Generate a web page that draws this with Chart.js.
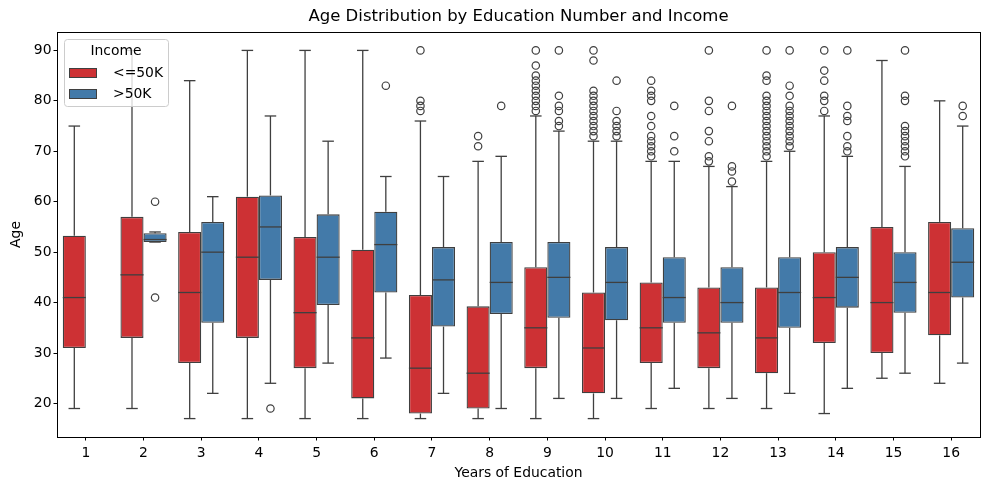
<!DOCTYPE html>
<html>
<head>
<meta charset="utf-8">
<script src="https://cdn.jsdelivr.net/npm/chart.js@4.4.1/dist/chart.umd.min.js"></script>
<style>
html,body{margin:0;padding:0;background:#fff;}
</style>
</head>
<body>
<canvas id="boxChart" width="989" height="490"></canvas>
<script>
// ===========================================
// DATA  (age by years of education, split by income)
// ===========================================

const years = ["1","2","3","4","5","6","7","8","9","10","11","12","13","14","15","16"];
const yTicks = [20,30,40,50,60,70,80,90];

// <=50K
const lowWhisLo = [19,19,17,17,17,17,17,17,17,17,19,19,19,18,25,24];
const lowQ1     = [31,33,28,33,27,21,18,19,27,22,28,27,26,32,30,33.5];
const lowMed    = [41,45.5,42,49,38,33,27,26,35,31,35,34,33,41,40,42];
const lowQ3     = [53.25,57,54,61,53,50.5,41.5,39.25,47,42,44,43,43,50,55,56];
const lowWhisHi = [75,90,84,90,90,90,76,68,77,72,68,67,68,77,88,80];
const lowOut = [
  [],[],[],[],[],[],
  [78,79,80,90],
  [71,73],
  [78,79,80,81,82,83,84,85,87,90],
  [73,74,75,76,77,78,79,80,81,82,88,90],
  [69,70,71,72,73,75,77,80,81,82,84],
  [68,69,72,74,78,80,90],
  [69,70,71,72,73,74,75,76,77,78,79,80,81,84,85,90],
  [78,80,81,84,86,90],
  [],[]
];

// >50K
const highWhisLo = [null,52,22,24,28,29,22,19,21,21,23,21,22,23,26,28];
const highQ1     = [null,52,36,44.5,39.5,42,35.25,37.75,37,36.5,36,36,35,39,38,41];
const highMed    = [null,52.5,50,55,49,51.5,44.5,44,45,44,41,40,42,45,44,48];
const highQ3     = [null,53.75,56,61.25,57.5,58,51,52,52,51,49,47,49,51,50,54.75];
const highWhisHi = [null,54,61,77,72,65,65,69,74,72,68,63,70,69,67,75];
const highOut = [
  [],
  [41,60],
  [],
  [19],
  [],
  [83],
  [],
  [79],
  [75,76,78,79,81,90],
  [73,74,75,76,78,84],
  [70,73,79],
  [64,66,67,79],
  [71,72,73,74,75,76,77,78,79,81,83,90],
  [70,71,73,76,77,79,90],
  [69,70,71,72,73,74,75,80,81,90],
  [77,79]
];

// ===========================================
// STYLE
// ===========================================

const RED = "rgb(205,49,52)";
const BLUE = "rgb(67,122,169)";
const LINE = "#3f3f3f";
const FONT = "DejaVu Sans";
const TITLE = "Age Distribution by Education Number and Income";

Chart.defaults.font.family = FONT;
Chart.defaults.color = "#000";

const groups = [
  {label:"<=50K", color:RED,  lo:lowWhisLo,  q1:lowQ1,  med:lowMed,  q3:lowQ3,  hi:lowWhisHi,  out:lowOut},
  {label:">50K",  color:BLUE, lo:highWhisLo, q1:highQ1, med:highMed, q3:highQ3, hi:highWhisHi, out:highOut}
];

// ===========================================
// BOX EXTRAS (whiskers, medians, fliers, frame, legend, title)
// ===========================================

function seg(ctx, x1, y1, x2, y2){
    ctx.beginPath();
    ctx.moveTo(x1, y1);
    ctx.lineTo(x2, y2);
    ctx.stroke();
}

const boxExtras = {
    id:"boxExtras",

    beforeDatasetsDraw(chart){
        const ctx = chart.ctx;
        const ys = chart.scales.y;
        ctx.save();
        ctx.strokeStyle = LINE;
        ctx.lineWidth = 1.3;
        groups.forEach((g, di) => {
            chart.getDatasetMeta(di).data.forEach((bar, i) => {
                if(g.q1[i] == null) return;
                const {x, width} = bar.getProps(["x","width"], true);
                const cap = width / 4;
                const yLo = ys.getPixelForValue(g.lo[i]);
                const yHi = ys.getPixelForValue(g.hi[i]);
                seg(ctx, x, ys.getPixelForValue(g.q1[i]), x, yLo);
                seg(ctx, x - cap, yLo, x + cap, yLo);
                seg(ctx, x, ys.getPixelForValue(g.q3[i]), x, yHi);
                seg(ctx, x - cap, yHi, x + cap, yHi);
            });
        });
        ctx.restore();
    },

    afterDatasetsDraw(chart){
        const ctx = chart.ctx;
        const ys = chart.scales.y;
        const area = chart.chartArea;
        ctx.save();
        ctx.strokeStyle = LINE;
        groups.forEach((g, di) => {
            chart.getDatasetMeta(di).data.forEach((bar, i) => {
                if(g.q1[i] == null) return;
                const {x, width} = bar.getProps(["x","width"], true);
                // median
                ctx.lineWidth = 1.3;
                const ym = ys.getPixelForValue(g.med[i]);
                seg(ctx, x - width/2, ym, x + width/2, ym);
                // fliers
                ctx.lineWidth = 1.2;
                g.out[i].forEach(v => {
                    ctx.beginPath();
                    ctx.arc(x, ys.getPixelForValue(v), 3.7, 0, Math.PI*2);
                    ctx.stroke();
                });
            });
        });

        // frame
        ctx.strokeStyle = "#000";
        ctx.lineWidth = 1;
        ctx.strokeRect(Math.round(area.left)+0.5, Math.round(area.top)+0.5,
            Math.round(area.right - area.left), Math.round(area.bottom - area.top));

        // title, centred over the axes
        ctx.fillStyle = "#000";
        ctx.font = "16.5px '" + FONT + "'";
        ctx.textAlign = "center";
        ctx.textBaseline = "middle";
        ctx.fillText(TITLE, (area.left + area.right) / 2, 17);

        // legend
        const lx = area.left + 7, ly = area.top + 7, lw = 104, lh = 67;
        ctx.fillStyle = "rgba(255,255,255,0.8)";
        ctx.strokeStyle = "#cccccc";
        ctx.beginPath();
        ctx.roundRect(lx + 0.5, ly + 0.5, lw, lh, 3);
        ctx.fill();
        ctx.stroke();

        ctx.font = "13.9px '" + FONT + "'";
        ctx.fillStyle = "#000";
        ctx.textBaseline = "middle";
        ctx.textAlign = "center";
        ctx.fillText("Income", lx + lw/2, ly + 12);

        ctx.textAlign = "left";
        groups.forEach((g, k) => {
            const py = ly + 29 + k * 21;
            ctx.fillStyle = g.color;
            ctx.fillRect(lx + 5, py, 28, 10);
            ctx.strokeStyle = LINE;
            ctx.lineWidth = 1;
            ctx.strokeRect(lx + 5.5, py + 0.5, 27, 9);
            ctx.fillStyle = "#000";
            ctx.fillText(g.label, lx + 49, py + 5.5);
        });
        ctx.restore();
    }
};

// ===========================================
// CHART
// ===========================================

new Chart(document.getElementById("boxChart"), {
    type:"bar",
    data:{
        labels:years,
        datasets:groups.map(g => ({
            label:g.label,
            data:g.q1.map((v, i) => v == null ? null : [v, g.q3[i]]),
            backgroundColor:g.color,
            borderColor:LINE,
            borderWidth:1.3,
            borderSkipped:false,
            categoryPercentage:0.8,
            barPercentage:1.0
        }))
    },
    options:{
        responsive:false,
        animation:false,
        devicePixelRatio:1,
        layout:{padding:{left:0, right:9, top:32, bottom:0}},
        plugins:{
            legend:{display:false},
            tooltip:{enabled:false},
            title:{display:false}
        },
        scales:{
            x:{
                offset:true,
                grid:{display:true, offset:false, drawOnChartArea:false, drawTicks:true, tickLength:3.5, color:"#000"},
                border:{display:false},
                ticks:{color:"#000", font:{size:13.9}, padding:5, maxRotation:0},
                title:{display:true, text:"Years of Education", color:"#000", font:{size:13.9}, padding:{top:4, bottom:8}},
                afterFit(scale){ scale.height = 53; }
            },
            y:{
                min:13.35,
                max:93.65,
                grid:{display:true, drawOnChartArea:false, drawTicks:true, tickLength:3.5, color:"#000"},
                border:{display:false},
                ticks:{color:"#000", font:{size:13.9}, padding:2},
                title:{display:true, text:"Age", color:"#000", font:{size:13.9}, padding:{top:8, bottom:4}},
                afterBuildTicks(scale){ scale.ticks = yTicks.map(v => ({value:v})); },
                afterFit(scale){ scale.width = 57; }
            }
        }
    },
    plugins:[boxExtras]
});
</script>
</body>
</html>
